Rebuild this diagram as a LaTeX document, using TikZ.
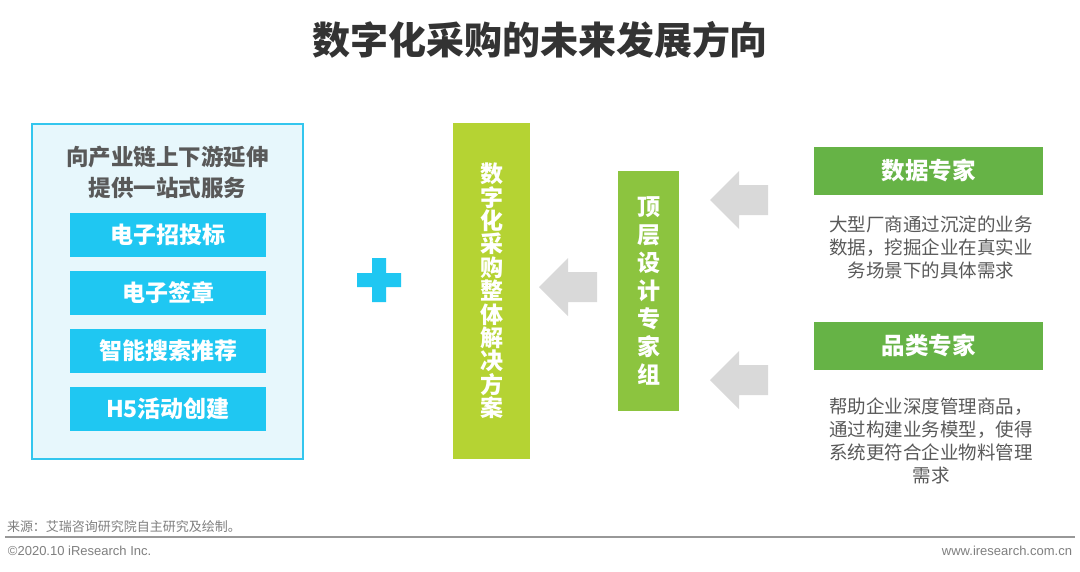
\documentclass[tikz,border=0pt]{standalone}
\usepackage{fontspec}
\setmainfont{Liberation Sans}
\newfontfamily\cjk{Noto Sans CJK SC}
\definecolor{titleGrey}{HTML}{333333}
\definecolor{textGrey}{HTML}{595959}
\definecolor{footGrey}{HTML}{7F7F7F}
\definecolor{panelFill}{HTML}{E7F7FC}
\definecolor{panelLine}{HTML}{33C6EE}
\definecolor{svcBlue}{HTML}{1FC7F2}
\definecolor{barLime}{HTML}{B5D333}
\definecolor{barGreen}{HTML}{8CC43F}
\definecolor{headGreen}{HTML}{66B346}
\definecolor{arrowGrey}{HTML}{D9D9D9}

\begin{document}
\begin{tikzpicture}[
		x=1pt, y=-1pt,
		every node/.style={inner sep=0pt, outer sep=0pt},
		]
		\tikzset{
			titleText/.style={text=titleGrey, font=\cjk\bfseries\fontsize{38}{38}\selectfont},
			panelBox/.style={fill=panelFill, draw=panelLine, line width=2pt, minimum width=271, minimum height=335},
			panelHead/.style={text=textGrey, align=center, font=\cjk\bfseries\fontsize{22.5}{31}\selectfont},
			svcBox/.style={fill=svcBlue, minimum width=196, minimum height=44, text=white, font=\cjk\bfseries\fontsize{23}{23}\selectfont},
			vertBar/.style={text=white, align=center, font=\cjk\bfseries\fontsize{23}{23.4}\selectfont},
			expertHead/.style={fill=headGreen, minimum width=229, minimum height=48, text=white, font=\cjk\bfseries\fontsize{23.5}{23.5}\selectfont},
			descText/.style={text=textGrey, align=center, font=\cjk\fontsize{18.5}{23}\selectfont},
			footText/.style={text=footGrey, font=\fontsize{13}{13}\selectfont},
		}
		\useasboundingbox[fill=white] (0,0) rectangle (1080,571);
		
		\node[titleText] (title) at (540,40) {数字化采购的未来发展方向};
		
		% left panel
		\node[panelBox] (panel) at (167.5,291.5) {};
		\node[panelHead] (panelTitle) at (167.5,172.5) {向产业链上下游延伸\\提供一站式服务};
		\foreach \txt [count=\i] in {电子招投标,电子签章,智能搜索推荐,H5活动创建}{
			\node[svcBox] (svc\i) at ({168},{235+58*(\i-1)}) {\txt};
		}
		
		% plus
		\fill[svcBlue] (357,273) rectangle (401,287) (372,258) rectangle (386,302);
		
		% middle bars
		\node[vertBar, fill=barLime, minimum width=77, minimum height=336] (solution) at (491.5,291) {};
		\node[vertBar] (solutionText) at (solution.center) {数\\字\\化\\采\\购\\整\\体\\解\\决\\方\\案};
		\node[vertBar, fill=barGreen, minimum width=61, minimum height=240] (expertGroup) at (648.5,291) {};
		\node[vertBar, font=\cjk\bfseries\fontsize{23}{28}\selectfont] (expertGroupText) at (expertGroup.center) {顶\\层\\设\\计\\专\\家\\组};
		
		% grey arrows
		\foreach \tx/\ty in {539/287, 710/200, 710/380}{
			\fill[arrowGrey, shift={(\tx,\ty)}]
			(0,0) -- (29,-29) -- (29,-15) -- (58,-15) -- (58,15) -- (29,15) -- (29,29) -- cycle;
		}
		
		% experts
		\node[expertHead] (dataExpert) at (928.5,171) {数据专家};
		\node[descText] (dataDesc) at (931,247) {大型厂商通过沉淀的业务\\数据，挖掘企业在真实业\\务场景下的具体需求};
		\node[expertHead] (categoryExpert) at (928.5,346) {品类专家};
		\node[descText] (categoryDesc) at (931,441) {帮助企业深度管理商品，\\通过构建业务模型，使得\\系统更符合企业物料管理\\需求};
		
		% footer
		\node[footText, anchor=west, font=\cjk\fontsize{13}{13}\selectfont] (source) at (7,527) {来源：艾瑞咨询研究院自主研究及绘制。};
		\coordinate (ruleL) at (5,537);
		\coordinate (ruleR) at (1075,537);
		\draw[footGrey!80, line width=2pt] (ruleL) -- (ruleR);
		\node[footText, anchor=west] (copyright) at (8,551) {©2020.10 iResearch Inc.};
		\node[footText, anchor=east] (website) at (1072,551) {www.iresearch.com.cn};
	\end{tikzpicture}
\end{document}
